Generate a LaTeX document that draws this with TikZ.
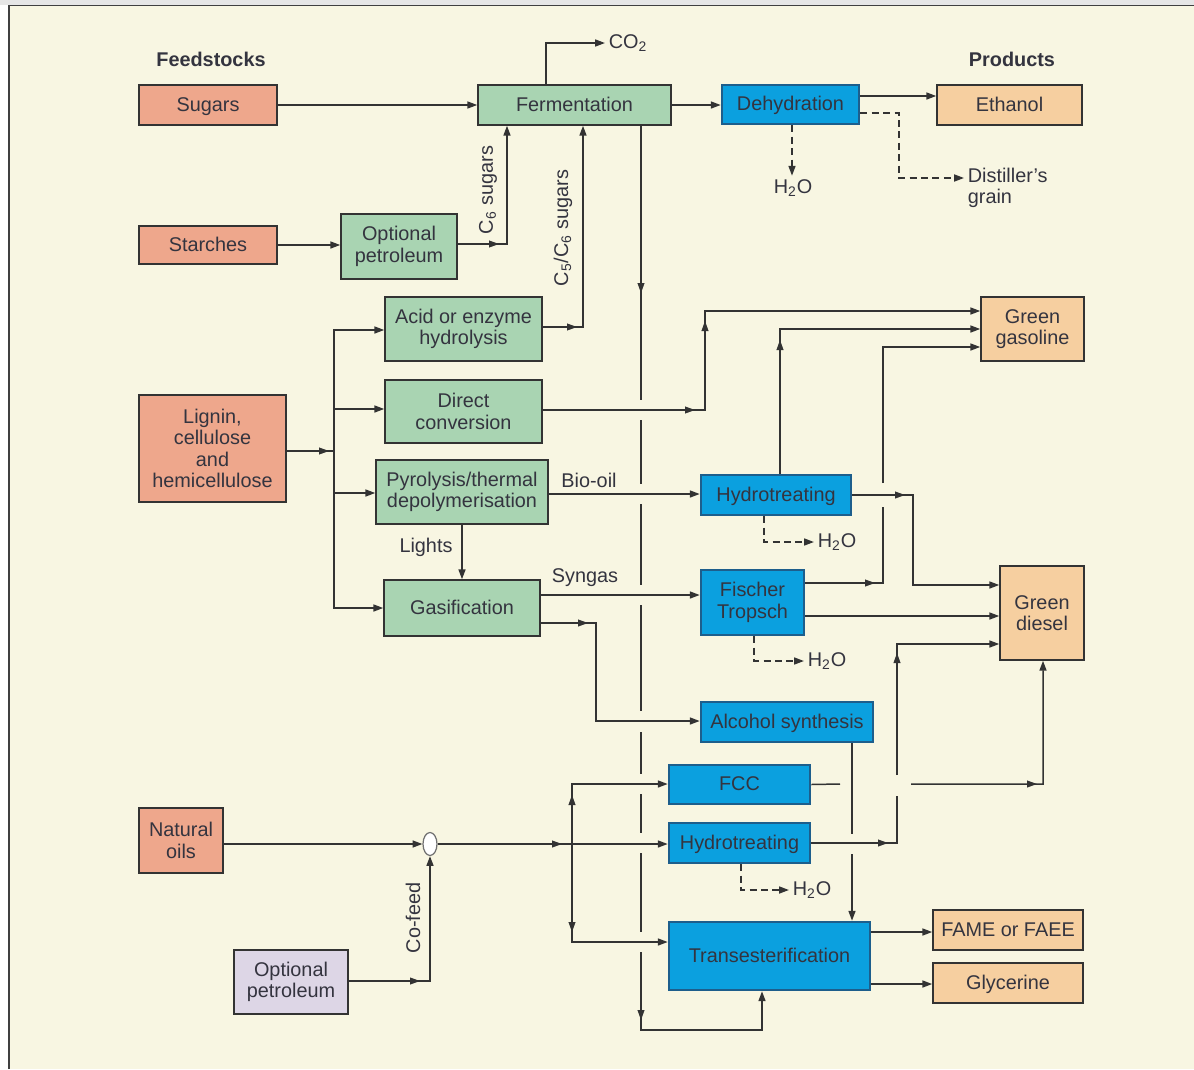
\documentclass[tikz,border=0pt]{standalone}
\usepackage{fontspec}
\setmainfont{Liberation Sans}
\usetikzlibrary{arrows.meta,shapes.geometric}
\definecolor{cream}{HTML}{F8F6E2}
\definecolor{topgray}{HTML}{E6E6E6}
\definecolor{salmon}{HTML}{EEA78C}
\definecolor{greenb}{HTML}{A9D4B2}
\definecolor{blueb}{HTML}{0BA0DF}
\definecolor{bluedark}{HTML}{1D5E8C}
\definecolor{peach}{HTML}{F6CFA0}
\definecolor{lav}{HTML}{DDD6E6}
\definecolor{linec}{HTML}{333333}
\definecolor{textc}{HTML}{34343F}
\newcommand{\mkbox}[7]{\node[#6, minimum width={(#4-#2)*0.02cm}, minimum height={(#5-#3)*0.02cm}] (#1) at ({(#2+#4)/2},{(#3+#5)/2}) {#7};}
\newcommand{\ah}[3]{\fill[linec,shift={(#1,#2)},rotate=#3] (0,0) -- (-10,3.6) -- (-10,-3.6) -- cycle;}
\begin{document}
\begin{tikzpicture}[x=0.02cm,y=-0.02cm,
  font=\fontsize{11.3}{12.2}\selectfont,
  bxs/.style={draw=linec, line width=0.9pt, inner sep=0pt, align=center, text=textc},
  one/.style={text height=0.9em, text depth=0.18em},
  fs/.style={bxs, fill=salmon},
  gb/.style={bxs, fill=greenb},
  bb/.style={bxs, fill=blueb, draw=bluedark, line width=1.5pt},
  pb/.style={bxs, fill=peach},
  lb/.style={bxs, fill=lav},
  ln/.style={draw=linec, line width=0.85pt},
  arrw/.style={-{Triangle[length=5.6pt,width=4pt]}},
  dsh/.style={ln, dash pattern=on 4pt off 2.5pt},
  lbl/.style={text=textc, inner sep=2pt, align=left}]
\useasboundingbox (0,0) rectangle (1194,1069);
% background and frame
\fill[white] (0,0) rectangle (1194,1069);
\fill[topgray] (0,0) rectangle (1194,5);
\fill[cream] (9,6) rectangle (1194,1069);
\draw[black!75, line width=1pt] (9,1069) -- (9,5.5) -- (1194,5.5);

% headers
\node[lbl, font=\fontsize{11.3}{12.2}\selectfont\bfseries] (hfeed) at (211,59) {Feedstocks};
\node[lbl, font=\fontsize{11.3}{12.2}\selectfont\bfseries] (hprod) at (1012,59) {Products};

% feedstocks
\mkbox{sugars}{139}{85}{277}{125}{fs,one}{Sugars}
\mkbox{starches}{139}{226}{277}{264}{fs,one}{Starches}
\mkbox{lignin}{139}{395}{286}{502}{fs}{Lignin,\\cellulose\\and\\hemicellulose}
\mkbox{natoils}{139}{808}{223}{873}{fs}{Natural\\oils}
\mkbox{optpp}{234}{950}{348}{1014}{lb}{Optional\\petroleum}
% green processes
\mkbox{ferm}{478}{85}{671}{125}{gb,one}{Fermentation}
\mkbox{optg}{341}{214}{457}{279}{gb}{Optional\\petroleum}
\mkbox{acid}{385}{297}{542}{361}{gb}{Acid or enzyme\\hydrolysis}
\mkbox{direct}{385}{380}{542}{443}{gb}{Direct\\conversion}
\mkbox{pyro}{376}{460}{548}{524}{gb}{Pyrolysis/thermal\\depolymerisation}
\mkbox{gasif}{384}{580}{540}{636}{gb,one}{Gasification}
% blue processes
\mkbox{dehyd}{722}{85}{859}{124}{bb,one}{Dehydration}
\mkbox{hta}{701}{475}{851}{515}{bb,one}{Hydrotreating}
\mkbox{ft}{701}{570}{804}{635}{bb}{Fischer\\Tropsch}
\mkbox{alc}{701}{702}{873}{742}{bb,one}{Alcohol synthesis}
\mkbox{fcc}{669}{765}{810}{804}{bb,one}{FCC}
\mkbox{htb}{669}{823}{810}{863}{bb,one}{Hydrotreating}
\mkbox{trans}{669}{922}{870}{990}{bb,one}{Transesterification}
% products
\mkbox{ethanol}{937}{85}{1082}{125}{pb,one}{Ethanol}
\mkbox{ggas}{981}{297}{1084}{361}{pb}{Green\\gasoline}
\mkbox{gdiesel}{1000}{566}{1084}{660}{pb}{Green\\diesel}
\mkbox{fame}{933}{910}{1083}{950}{pb,one}{FAME or FAEE}
\mkbox{glyc}{933}{963}{1083}{1003}{pb,one}{Glycerine}

% labels
\node[lbl] (co2) at (628,43) {CO\textsubscript{2}};
\node[lbl] (h2oa) at (793,188) {H\textsubscript{2}O};
\node[lbl, anchor=west] (dg) at (964,188) {Distiller's\\grain};
\node[lbl] (h2ob) at (837,542) {H\textsubscript{2}O};
\node[lbl] (h2oc) at (827,661) {H\textsubscript{2}O};
\node[lbl] (h2od) at (812,890) {H\textsubscript{2}O};
\node[lbl] (biooil) at (589,480) {Bio-oil};
\node[lbl] (lights) at (426,547) {Lights};
\node[lbl] (syngas) at (585,578) {Syngas};
\node[lbl, rotate=90] (c6) at (488,190) {C\textsubscript{6} sugars};
\node[lbl, rotate=90] (c56) at (563,228) {C\textsubscript{5}/C\textsubscript{6} sugars};
\node[lbl, rotate=90] (cofeed) at (413,918) {Co-feed};
\node[ellipse, draw=linec!70, fill=white, line width=0.7pt, inner sep=0pt, minimum width=0.28cm, minimum height=0.46cm] (junc) at (430,844) {};

\coordinate (split1) at (334,451);
\coordinate (split2) at (572,844);

% top connectors
\draw[ln,arrw] (ferm.north -| 546,0) |- (co2.west);
\draw[ln,arrw] (sugars.east) -- (ferm.west |- sugars.east);
\draw[ln,arrw] (ferm.east) -- (dehyd.west |- ferm.east);
\draw[ln,arrw] (dehyd.east |- 0,96) -- (ethanol.west |- 0,96);
\draw[dsh,arrw] (dehyd.south -| 792,0) -- (h2oa.north -| 792,0);
\draw[dsh,arrw] (dehyd.east |- 0,113) -- (899,113) |- (dg.west |- 0,178);
\draw[ln,arrw] (starches.east) -- (optg.west |- starches.east);
\draw[ln,arrw] (optg.east |- 0,244) -| (ferm.south -| 507,0);
\draw[ln,arrw] (acid.east |- 0,327) -| (ferm.south -| 583,0);
% ethanol to transesterification (broken at crossings)
\draw[ln,arrw] (ferm.south -| 641,0) -- (641,400) (641,420) -- (641,484) (641,504) -- (641,585)
  (641,605) -- (641,711) (641,732) -- (641,774) (641,794) -- (641,833) (641,853) -- (641,932)
  (641,952) -- (641,1030) -- (762,1030) -- (trans.south -| 762,0);
% lignin split
\draw[ln] (lignin.east |- split1) -- (split1);
\draw[ln,arrw] (split1) |- (acid.west |- 0,330);
\draw[ln,arrw] (split1) |- (direct.west |- 0,409);
\draw[ln,arrw] (split1) |- (pyro.west |- 0,493);
\draw[ln,arrw] (split1) |- (gasif.west |- 0,608);
% thermochemical routes
\draw[ln,arrw] (direct.east |- 0,410) -- (705,410) -- (705,311) -- (ggas.west |- 0,311);
\draw[ln,arrw] (pyro.east |- 0,494) -- (hta.west |- 0,494);
\draw[ln,arrw] (pyro.south -| 462,0) -- (gasif.north -| 462,0);
\draw[ln,arrw] (gasif.east |- 0,595) -- (ft.west |- 0,595);
\draw[ln,arrw] (gasif.east |- 0,623) -- (596,623) -- (596,721) -- (alc.west |- 0,721);
\draw[ln,arrw] (hta.north -| 780,0) |- (ggas.west |- 0,329);
\draw[dsh,arrw] (hta.south -| 764,0) |- (h2ob.west);
\draw[ln,arrw] (hta.east) -| (913,585) -- (gdiesel.west |- 0,585);
\draw[ln,arrw] (ft.east |- 0,583) -- (883,583) -- (883,507) (883,483) -- (883,347) -- (ggas.west |- 0,347);
\draw[ln,arrw] (ft.east |- 0,616) -- (gdiesel.west |- 0,616);
\draw[dsh,arrw] (ft.south -| 754,0) |- (h2oc.west);
\draw[ln,arrw] (alc.south -| 852,0) -- (852,834) (852,854) -- (trans.north -| 852,0);
\draw[ln,arrw] (fcc.east) -- (840,784) (911,784) -- (1043,784) -- (gdiesel.south -| 1043,0);
\draw[ln,arrw] (htb.east) -- (897,843) -- (897,796) (897,775) -- (897,644) -- (gdiesel.west |- 0,644);
\draw[dsh,arrw] (htb.south -| 741,0) |- (h2od.west);
% natural oils
\draw[ln,arrw] (natoils.east |- 0,844) -- (junc.west);
\draw[ln,arrw] (optpp.east |- 0,981) -| (junc.south);
\draw[ln] (junc.east) -- (split2);
\draw[ln,arrw] (split2) |- (fcc.west |- 0,784);
\draw[ln,arrw] (split2) -- (htb.west |- split2);
\draw[ln,arrw] (split2) |- (trans.west |- 0,942);
\draw[ln,arrw] (trans.east |- 0,932) -- (fame.west |- 0,932);
\draw[ln,arrw] (trans.east |- 0,984) -- (glyc.west |- 0,984);

% mid-line arrowheads
\ah{499}{244}{0}
\ah{577}{327}{0}
\ah{641}{293}{-90}
\ah{641}{1020}{-90}
\ah{329}{451}{0}
\ah{695}{410}{0}
\ah{705}{321}{90}
\ah{588}{623}{0}
\ah{780}{340}{90}
\ah{905}{495}{0}
\ah{875}{583}{0}
\ah{1037}{784}{0}
\ah{888}{843}{0}
\ah{897}{653}{90}
\ah{420}{981}{0}
\ah{562}{844}{0}
\ah{572}{795}{90}
\ah{572}{932}{-90}
\end{tikzpicture}
\end{document}
